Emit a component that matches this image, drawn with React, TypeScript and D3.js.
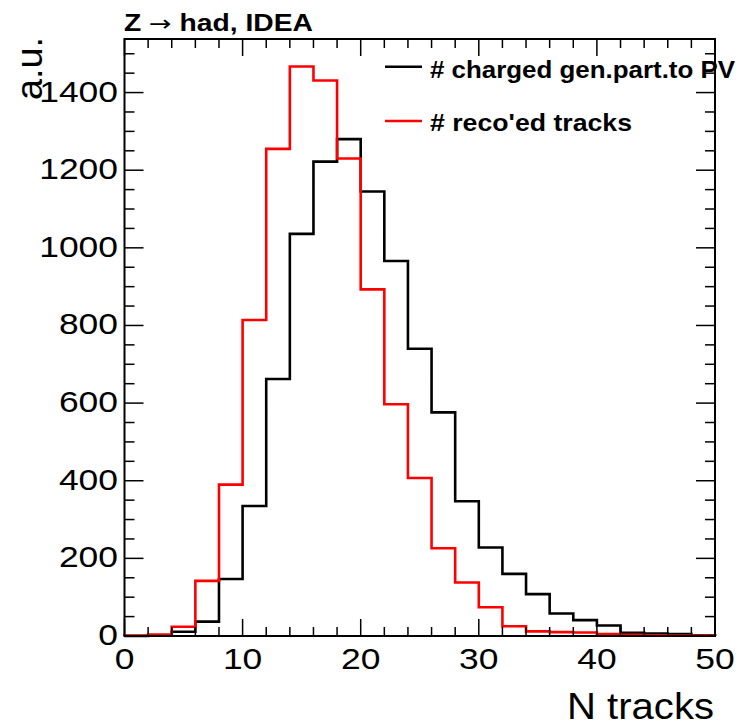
import React from "react";
import * as d3 from "d3";

const binEdges = [0, 2, 4, 6, 8, 10, 12, 14, 16, 18, 20, 22, 24, 26, 28, 30, 32, 34, 36, 38, 40, 42, 44, 46, 48, 50];
const genCounts = [0, 1, 11, 37, 147, 335, 662, 1036, 1222, 1280, 1145, 966, 740, 576, 347, 228, 160, 108, 58, 41, 27, 8, 6, 5, 2];
const recoCounts = [1, 4, 24, 142, 390, 814, 1255, 1467, 1431, 1230, 893, 597, 407, 226, 138, 74, 25, 12, 10, 9, 5, 3, 2, 1, 1];
const xTickValues = [0, 10, 20, 30, 40, 50];
const yTickValues = [0, 200, 400, 600, 800, 1000, 1200, 1400];
const seriesNames = ["# charged gen.part.to PV", "# reco'ed tracks"];
const seriesColors = ["#000000", "#ff0000"];
const titleParts = ["Z ", "\u2192", " had, IDEA"];
const xTitle = "N tracks";
const yTitle = "a.u.";

export default function App() {
  const W = 750, H = 726;
  const left = 124.5, right = 715, top = 39, bottom = 636;
  const x = d3.scaleLinear().domain([0, 50]).range([left, right]);
  const y = d3.scaleLinear().domain([0, 1538]).range([bottom, top]);

  const histPath = (counts: number[]) => {
    const pts: [number, number][] = [[binEdges[0], 0]];
    counts.forEach((c, i) => {
      pts.push([binEdges[i], c]);
      pts.push([binEdges[i + 1], c]);
    });
    pts.push([binEdges[binEdges.length - 1], 0]);
    return d3.line<[number, number]>().x(d => x(d[0])).y(d => y(d[1]))(pts) || "";
  };

  const xMinor = binEdges;
  const yMinor = d3.range(0, 1538, 50);
  const font = "'Liberation Sans', Arial, Helvetica, sans-serif";
  const digitW = 19.7;

  return (
    <svg width={W} height={H} style={{ position: "absolute", left: 0, top: 0, display: "block" }} fontFamily={font}>
      <rect x={0} y={0} width={W} height={H} fill="#fff" />
      {/* histograms */}
      <path d={histPath(genCounts)} fill="none" stroke={seriesColors[0]} strokeWidth={2.6} />
      <path d={histPath(recoCounts)} fill="none" stroke={seriesColors[1]} strokeWidth={2.6} />
      {/* frame */}
      <rect x={left} y={top} width={right - left} height={bottom - top} fill="none" stroke="#000" strokeWidth={2} />
      {/* ticks */}
      <g stroke="#000" strokeWidth={1.5}>
        {xMinor.map(v => {
          const major = v % 10 === 0;
          const len = major ? 17 : 9;
          return (
            <g key={"xt" + v}>
              <line x1={x(v)} x2={x(v)} y1={bottom} y2={bottom - len} />
              <line x1={x(v)} x2={x(v)} y1={top} y2={top + len} />
            </g>
          );
        })}
        {yMinor.map(v => {
          const major = v % 200 === 0;
          const len = major ? 19 : 10;
          return (
            <g key={"yt" + v}>
              <line x1={left} x2={left + len} y1={y(v)} y2={y(v)} />
              <line x1={right} x2={right - len} y1={y(v)} y2={y(v)} />
            </g>
          );
        })}
      </g>
      {/* tick labels */}
      {xTickValues.map(v => {
        const s = String(v);
        return (
          <text key={"xl" + v} x={x(v)} y={669} fontSize={30} textAnchor="middle"
            textLength={s.length * digitW} lengthAdjust="spacingAndGlyphs">{s}</text>
        );
      })}
      {yTickValues.map(v => {
        const s = String(v);
        return (
          <text key={"yl" + v} x={118} y={y(v) + 9} fontSize={30} textAnchor="end"
            textLength={s.length * digitW} lengthAdjust="spacingAndGlyphs">{s}</text>
        );
      })}
      {/* axis titles */}
      <text x={714} y={719} fontSize={37} textAnchor="end" textLength={147} lengthAdjust="spacingAndGlyphs">{xTitle}</text>
      <text transform="translate(42,37) rotate(-90)" fontSize={37} textAnchor="end" textLength={63} lengthAdjust="spacingAndGlyphs">{yTitle}</text>
      {/* title */}
      <text x={124} y={31} fontSize={23} fontWeight="bold" textLength={189} lengthAdjust="spacingAndGlyphs">
        <tspan>{titleParts[0]}</tspan>
        <tspan fontFamily="'DejaVu Sans', sans-serif" fontWeight="normal" fontSize={22}>{titleParts[1]}</tspan>
        <tspan>{titleParts[2]}</tspan>
      </text>
      {/* legend */}
      <line x1={385} x2={422} y1={66.7} y2={66.7} stroke={seriesColors[0]} strokeWidth={2.6} />
      <text x={430} y={77.5} fontSize={24} fontWeight="bold" textLength={305} lengthAdjust="spacingAndGlyphs">{seriesNames[0]}</text>
      <line x1={385} x2={422} y1={121} y2={121} stroke={seriesColors[1]} strokeWidth={2.6} />
      <text x={430} y={131} fontSize={24} fontWeight="bold" textLength={202} lengthAdjust="spacingAndGlyphs">{seriesNames[1]}</text>
    </svg>
  );
}
